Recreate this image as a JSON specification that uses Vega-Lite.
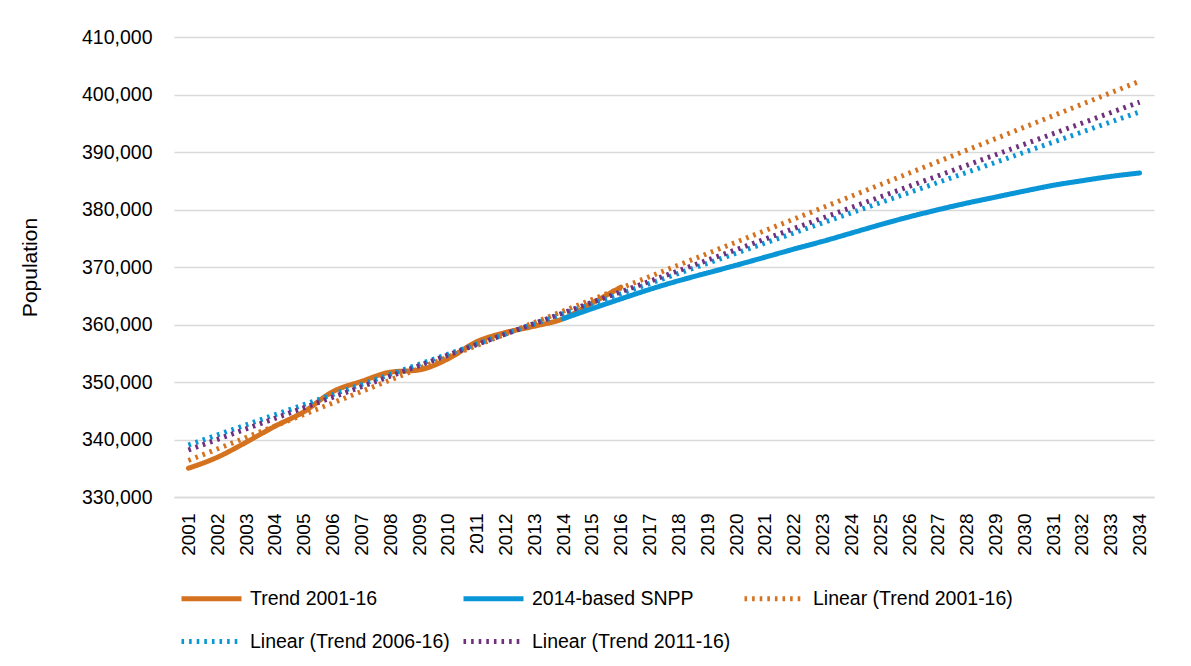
{
  "$schema": "https://vega.github.io/schema/vega-lite/v6.json",
  "width": 980,
  "height": 460,
  "autosize": {"type": "none"},
  "padding": {"left": 174, "top": 37, "right": 37, "bottom": 169},
  "background": "white",
  "config": {
    "font": "Liberation Sans",
    "view": {"stroke": null}
  },
  "data": {
    "values": [
      {"year": "2001", "series": "Trend 2001-16", "value": 335000},
      {"year": "2002", "series": "Trend 2001-16", "value": 336900},
      {"year": "2003", "series": "Trend 2001-16", "value": 339500},
      {"year": "2004", "series": "Trend 2001-16", "value": 342300},
      {"year": "2005", "series": "Trend 2001-16", "value": 344800},
      {"year": "2006", "series": "Trend 2001-16", "value": 348300},
      {"year": "2007", "series": "Trend 2001-16", "value": 350100},
      {"year": "2008", "series": "Trend 2001-16", "value": 351700},
      {"year": "2009", "series": "Trend 2001-16", "value": 352100},
      {"year": "2010", "series": "Trend 2001-16", "value": 354000},
      {"year": "2011", "series": "Trend 2001-16", "value": 357000},
      {"year": "2012", "series": "Trend 2001-16", "value": 358600},
      {"year": "2013", "series": "Trend 2001-16", "value": 359700},
      {"year": "2014", "series": "Trend 2001-16", "value": 361000},
      {"year": "2015", "series": "Trend 2001-16", "value": 363700},
      {"year": "2016", "series": "Trend 2001-16", "value": 366500},
      {"year": "2014", "series": "2014-based SNPP", "value": 361000},
      {"year": "2015", "series": "2014-based SNPP", "value": 362750},
      {"year": "2016", "series": "2014-based SNPP", "value": 364450},
      {"year": "2017", "series": "2014-based SNPP", "value": 366100},
      {"year": "2018", "series": "2014-based SNPP", "value": 367600},
      {"year": "2019", "series": "2014-based SNPP", "value": 368950},
      {"year": "2020", "series": "2014-based SNPP", "value": 370300},
      {"year": "2021", "series": "2014-based SNPP", "value": 371700},
      {"year": "2022", "series": "2014-based SNPP", "value": 373100},
      {"year": "2023", "series": "2014-based SNPP", "value": 374450},
      {"year": "2024", "series": "2014-based SNPP", "value": 375900},
      {"year": "2025", "series": "2014-based SNPP", "value": 377350},
      {"year": "2026", "series": "2014-based SNPP", "value": 378700},
      {"year": "2027", "series": "2014-based SNPP", "value": 379950},
      {"year": "2028", "series": "2014-based SNPP", "value": 381100},
      {"year": "2029", "series": "2014-based SNPP", "value": 382150},
      {"year": "2030", "series": "2014-based SNPP", "value": 383200},
      {"year": "2031", "series": "2014-based SNPP", "value": 384200},
      {"year": "2032", "series": "2014-based SNPP", "value": 385000},
      {"year": "2033", "series": "2014-based SNPP", "value": 385750},
      {"year": "2034", "series": "2014-based SNPP", "value": 386350},
      {"year": "2001", "series": "Linear (Trend 2001-16)", "value": 336350},
      {"year": "2034", "series": "Linear (Trend 2001-16)", "value": 402300},
      {"year": "2001", "series": "Linear (Trend 2006-16)", "value": 339030},
      {"year": "2034", "series": "Linear (Trend 2006-16)", "value": 396980},
      {"year": "2001", "series": "Linear (Trend 2011-16)", "value": 338170},
      {"year": "2034", "series": "Linear (Trend 2011-16)", "value": 398680}
    ]
  },
  "encoding": {
    "x": {
      "field": "year",
      "type": "ordinal",
      "scale": {"type": "point", "padding": 0.5, "domain": ["2001","2002","2003","2004","2005","2006","2007","2008","2009","2010","2011","2012","2013","2014","2015","2016","2017","2018","2019","2020","2021","2022","2023","2024","2025","2026","2027","2028","2029","2030","2031","2032","2033","2034"]},
      "axis": {
        "title": null,
        "labelAngle": -90,
        "labelFontSize": 19,
        "labelColor": "#000000",
        "labelPadding": 16,
        "ticks": false,
        "tickSize": 0,
        "domain": true,
        "domainColor": "#d9d9d9",
        "domainWidth": 1.5,
        "grid": false
      }
    },
    "y": {
      "field": "value",
      "type": "quantitative",
      "scale": {"domain": [330000, 410000], "nice": false, "zero": false},
      "axis": {
        "title": "Population",
        "titleFontSize": 21,
        "titleFontWeight": "normal",
        "titleColor": "#000000",
        "titlePadding": 41,
        "values": [330000, 340000, 350000, 360000, 370000, 380000, 390000, 400000, 410000],
        "format": ",.0f",
        "labelFontSize": 19.5,
        "labelColor": "#000000",
        "labelPadding": 22,
        "ticks": false,
        "tickSize": 0,
        "domain": false,
        "grid": true,
        "gridColor": "#d9d9d9",
        "gridWidth": 1.5
      }
    },
    "color": {
      "field": "series",
      "type": "nominal",
      "scale": {
        "domain": ["Trend 2001-16", "2014-based SNPP", "Linear (Trend 2001-16)", "Linear (Trend 2006-16)", "Linear (Trend 2011-16)"],
        "range": ["#d4721f", "#0a96d6", "#d4721f", "#0a96d6", "#70307e"]
      },
      "legend": {
        "title": null,
        "orient": "none",
        "legendX": 5,
        "legendY": 529,
        "direction": "horizontal",
        "columns": 3,
        "gridAlign": "each",
        "columnPadding": 3,
        "rowPadding": -24,
        "symbolType": "stroke",
        "symbolSize": 3600,
        "labelFontSize": 19.5,
        "labelColor": "#000000",
        "labelOffset": 6,
        "labelLimit": 400
      }
    },
    "strokeDash": {
      "field": "series",
      "type": "nominal",
      "scale": {
        "domain": ["Trend 2001-16", "2014-based SNPP", "Linear (Trend 2001-16)", "Linear (Trend 2006-16)", "Linear (Trend 2011-16)"],
        "range": [[1, 0], [1, 0], [2.6, 5], [2.6, 5], [2.6, 5]]
      }
    },
    "strokeWidth": {
      "field": "series",
      "type": "nominal",
      "scale": {
        "domain": ["Trend 2001-16", "2014-based SNPP", "Linear (Trend 2001-16)", "Linear (Trend 2006-16)", "Linear (Trend 2011-16)"],
        "range": [5, 5, 3, 3, 3]
      }
    }
  },
  "layer": [
    {
      "transform": [{"filter": "datum.series == 'Trend 2001-16' || datum.series == '2014-based SNPP'"}],
      "mark": {"type": "line", "strokeCap": "round", "strokeJoin": "round", "interpolate": "monotone"}
    },
    {
      "transform": [{"filter": "datum.series != 'Trend 2001-16' && datum.series != '2014-based SNPP'"}],
      "mark": {"type": "line", "strokeCap": "butt"}
    }
  ]
}
